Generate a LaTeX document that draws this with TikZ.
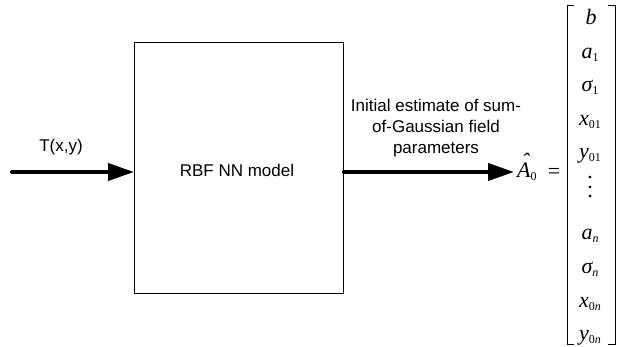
\documentclass[tikz,border=0pt]{standalone}
\usepackage{fontspec}
\setmainfont{Liberation Sans}
\newfontfamily\tms{Liberation Serif}
\usetikzlibrary{arrows.meta}
\newcommand\mth{\tms\itshape\fontsize{22}{22}\selectfont}
\newcommand\sbs[1]{\raisebox{-3pt}{\tms\upshape\fontsize{12}{12}\selectfont #1}}
\newcommand\hatA{\ooalign{A\cr\hidewidth\kern3pt\raisebox{9pt}{\char"02C6}\hidewidth\cr}}
\begin{document}
\begin{tikzpicture}[x=1pt,y=-1pt,
  lbl/.style={font=\fontsize{17}{21}\selectfont, inner sep=0},
  flow/.style={line width=4pt, line cap=round, -{Triangle[length=26pt,width=17pt]}},
  blockbox/.style={draw, line width=0.9pt, inner sep=0, minimum width=209pt, minimum height=251pt},
  ent/.style={anchor=base, inner sep=0, font=\mth},
  brk/.style={line width=0.9pt}]
\useasboundingbox (0,0) rectangle (618,347);
% main block
\node[blockbox, anchor=north west] (box) at (134,42) {};
\node[lbl, anchor=base] (model) at (237,177) {RBF NN model};
% input
\node[lbl, anchor=base] (tin) at (61,152) {T(x,y)};
\coordinate (inS) at (12,172);
% output expression
\node[anchor=base west, inner sep=0, font=\mth] (Ahat) at (517,178) {\hatA\sbs{0}};
\node[anchor=base, inner sep=0, font=\tms\fontsize{22}{22}\selectfont] (eq) at (554,178.5) {=};
\node[lbl, align=center, anchor=base] (ptext) at (436,154) {Initial estimate of sum-\\of-Gaussian field\\parameters};
% connectors
\draw[flow] (inS) -- (inS -| box.west);
\draw[flow, shorten >=3pt] (inS -| box.east) -- (inS -| Ahat.west);
% matrix brackets
\draw[brk] (574,5) -- (567,5) -- (567,344) -- (574,344);
\draw[brk] (608,5) -- (615,5) -- (615,344) -- (608,344);
% matrix entries
\node[ent] (m1) at (591,25) {b};
\node[ent] (m2) at (590,58.5) {a\sbs{1}};
\node[ent] (m3) at (590,92) {σ\sbs{1}};
\node[ent] (m4) at (590,125.5) {x\sbs{01}};
\node[ent] (m5) at (590,159) {y\sbs{01}};
\node[anchor=base, inner sep=0, align=center, font=\tms\fontsize{22}{9.5}\selectfont] (mdots) at (590,198) {.\\.\\.};
\node[ent] (m6) at (590,240) {a\sbs{\itshape n}};
\node[ent] (m7) at (590,273.5) {σ\sbs{\itshape n}};
\node[ent] (m8) at (590,307) {x\sbs{0\itshape n}};
\node[ent] (m9) at (590,340.5) {y\sbs{0\itshape n}};
\end{tikzpicture}
\end{document}
